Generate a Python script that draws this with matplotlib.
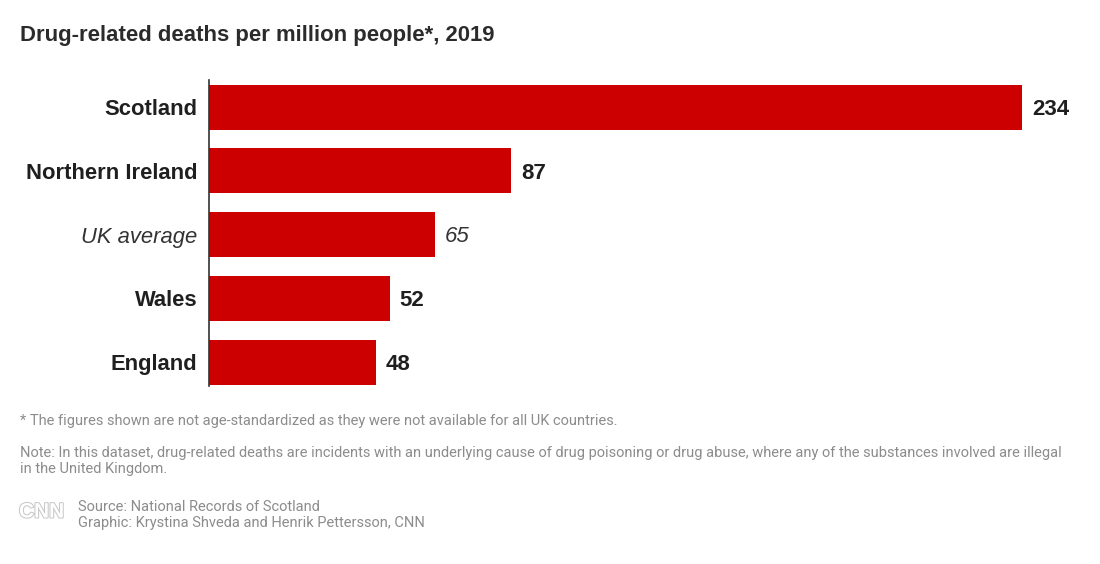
import matplotlib
matplotlib.use("Agg")
import matplotlib.pyplot as plt
import matplotlib.patheffects as pe

categories = ["Scotland", "Northern Ireland", "UK average", "Wales", "England"]
values = [234, 87, 65, 52, 48]
italic_flags = [False, False, True, False, False]

title = "Drug-related deaths per million people*, 2019"
footnote = "* The figures shown are not age-standardized as they were not available for all UK countries."
note_lines = ["Note: In this dataset, drug-related deaths are incidents with an underlying cause of drug poisoning or drug abuse, where any of the substances involved are illegal",
              "in the United Kingdom."]
source_lines = ["Source: National Records of Scotland",
                "Graphic: Krystina Shveda and Henrik Pettersson, CNN"]

W, H = 1100, 564
fig = plt.figure(figsize=(W / 100, H / 100), dpi=100)
fig.patch.set_facecolor("white")

def fx(px):
    return px / W

def fy(py):
    return 1 - py / H

ax_left, ax_right = 209, 1080
ax_top, ax_bot = 80, 386
ax = fig.add_axes([fx(ax_left), fy(ax_bot), fx(ax_right - ax_left), (ax_bot - ax_top) / H])
px_per_unit = 813 / 234
ax.set_xlim(0, (ax_right - ax_left) / px_per_unit)
spacing = 63.75
top_v = -27 / spacing
ax.set_ylim(top_v + (ax_bot - ax_top) / spacing, top_v)

red = "#cc0000"
dark = "#1f1f1f"
ypos = list(range(len(categories)))
ax.barh(ypos, values, height=45 / spacing, color=red, edgecolor="none")

for y, v, it in zip(ypos, values, italic_flags):
    ax.text(v + 10 / px_per_unit, y, str(v), va="center_baseline", ha="left",
            fontsize=16, color=dark if not it else "#333333", family="Liberation Sans",
            fontweight="normal" if it else "bold",
            fontstyle="italic" if it else "normal")

ax.set_yticks(ypos)
ax.set_yticklabels(categories)
for lbl, it in zip(ax.get_yticklabels(), italic_flags):
    lbl.set_family("Liberation Sans")
    lbl.set_fontsize(15.8)
    lbl.set_color(dark)
    lbl.set_verticalalignment("center_baseline")
    if it:
        lbl.set_fontstyle("italic")
        lbl.set_fontweight("normal")
        lbl.set_color("#333333")
    else:
        lbl.set_fontweight("bold")
ax.tick_params(axis="y", length=0, pad=8.5)
ax.set_xticks([])
for s in ["top", "right", "bottom"]:
    ax.spines[s].set_visible(False)
ax.spines["left"].set_color("#333333")
ax.spines["left"].set_linewidth(1.2)
ax.set_facecolor("none")

fig.text(fx(20), fy(36), title, fontsize=15.9, fontweight="bold", color="#2b2b2b",
         family="Liberation Sans", va="center", ha="left")

gray = "#8c8c8c"
fs = 10.5
fig.text(fx(20), fy(421), footnote, fontsize=fs, color=gray, family="Roboto",
         va="center", ha="left")
for i, line in enumerate(note_lines):
    fig.text(fx(20), fy(453 + 16 * i), line, fontsize=fs, color=gray, family="Roboto",
             va="center", ha="left")
for i, line in enumerate(source_lines):
    fig.text(fx(78), fy(507 + 16 * i), line, fontsize=fs, color=gray, family="Roboto",
             va="center", ha="left")
logo = fig.text(fx(19), fy(512), "CNN", fontsize=15, color="white", family="Liberation Sans",
                fontweight="bold", va="center", ha="left")
logo.set_path_effects([pe.Stroke(linewidth=1.5, foreground="#c8c8c8"), pe.Normal()])

fig.savefig("out.png", dpi=100, facecolor="white")
